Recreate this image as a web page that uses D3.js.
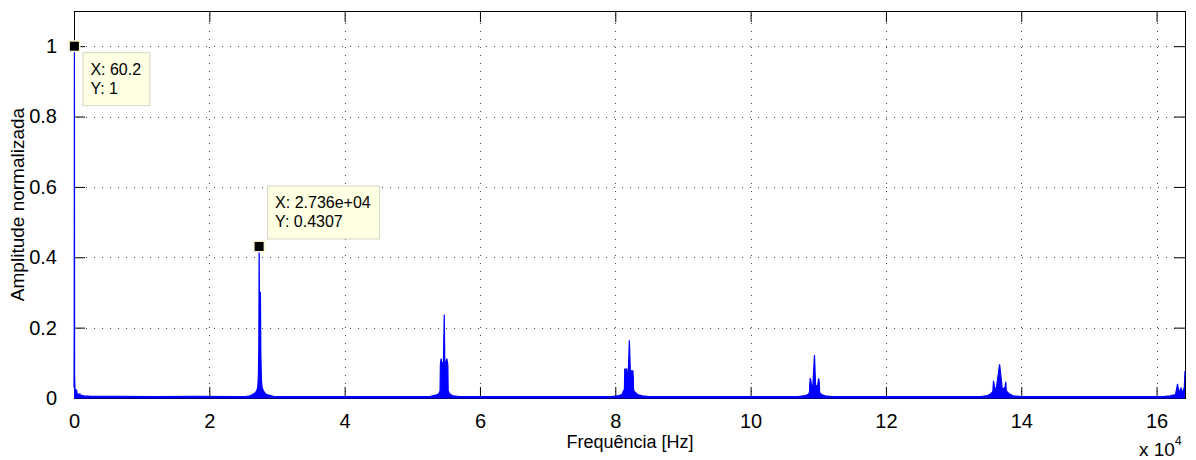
<!DOCTYPE html>
<html lang="pt">
<head>
<meta charset="UTF-8">
<title>espectro</title>
<style>
  body { margin: 0; background: #fff; }
  text { font-family: "Liberation Sans", Arial, Helvetica, sans-serif; }
</style>
</head>
<body>
<svg width="1196" height="460"></svg>
<script src="https://d3js.org/d3.v7.min.js"></script>
<script>
// data (frequency in Hz, normalised amplitude)
var dcFreq  = [0, 30, 60.2, 90, 150, 400, 450, 900, 950, 1500, 2500];
var dcAmp   = [0.03, 0.2, 1, 0.06, 0.025, 0.022, 0.012, 0.011, 0.008, 0.006, 0.005];

var h1Freq = [6000, 12000, 18000, 24000, 25500, 26000, 26400, 26800, 27000, 27150, 27250, 27320, 27360, 27400, 27550, 27620, 27700, 27800, 28000, 28300, 28800, 29500, 33000, 40000, 47000];
var h1Amp  = [0.005, 0.004, 0.005, 0.004, 0.005, 0.006, 0.01, 0.015, 0.02, 0.03, 0.06, 0.15, 0.4307, 0.30, 0.30, 0.12, 0.05, 0.03, 0.02, 0.012, 0.008, 0.005, 0.004, 0.004, 0.004];

var h2Freq = [52500, 53500, 53900, 54100, 54150, 54250, 54350, 54600, 54720, 54800, 55000, 55100, 55250, 55300, 55500, 56000, 57000, 62000, 68000, 74000];
var h2Amp  = [0.004, 0.008, 0.012, 0.02, 0.095, 0.112, 0.1, 0.1, 0.237, 0.1, 0.105, 0.112, 0.095, 0.02, 0.012, 0.006, 0.004, 0.004, 0.004, 0.004];

var h3Freq = [79500, 80500, 81000, 81200, 81350, 81400, 81700, 81800, 81900, 82080, 82250, 82300, 82600, 82650, 82700, 82750, 83000, 83300, 84000, 85000, 90000, 96000, 102000];
var h3Amp  = [0.004, 0.007, 0.01, 0.02, 0.025, 0.082, 0.082, 0.06, 0.06, 0.164, 0.06, 0.077, 0.077, 0.06, 0.025, 0.02, 0.015, 0.01, 0.006, 0.004, 0.004, 0.004, 0.004];

var h4Freq = [107000, 108000, 108500, 108700, 108750, 108800, 108900, 109000, 109200, 109440, 109600, 109900, 110050, 110150, 110200, 110500, 111000, 112000, 118000, 125000, 131000];
var h4Amp  = [0.004, 0.007, 0.01, 0.015, 0.04, 0.056, 0.05, 0.035, 0.035, 0.122, 0.035, 0.035, 0.056, 0.045, 0.015, 0.01, 0.006, 0.004, 0.004, 0.004, 0.004];

var h5Freq = [134000, 135000, 135500, 135800, 135900, 136050, 136300, 136800, 137200, 137600, 137700, 137800, 138200, 138800, 140000, 146000, 152000, 158000];
var h5Amp  = [0.004, 0.007, 0.012, 0.018, 0.049, 0.03, 0.025, 0.096, 0.025, 0.03, 0.046, 0.02, 0.012, 0.006, 0.004, 0.004, 0.004, 0.004];

var edgeFreq = [161000, 162000, 162800, 163100, 163300, 163600, 163800, 164100, 164200];
var edgeAmp  = [0.004, 0.006, 0.01, 0.04, 0.015, 0.028, 0.015, 0.03, 0.077];

var xTicks = [0, 20000, 40000, 60000, 80000, 100000, 120000, 140000, 160000];
var yTicks = [0, 0.2, 0.4, 0.6, 0.8, 1];
var tipX = [60.2, 27360];
var tipY = [1, 0.4307];
var tipLabelX = ["60.2", "2.736e+04"];
var tipLabelY = ["1", "0.4307"];

var freq = [].concat(dcFreq, h1Freq, h2Freq, h3Freq, h4Freq, h5Freq, edgeFreq);
var amp = [].concat(dcAmp, h1Amp, h2Amp, h3Amp, h4Amp, h5Amp, edgeAmp);
var spectrum = freq.map(function(f, i) { return { f: f, a: amp[i] }; });

// layout
var mLeft = 74, mRight = 1185, mTop = 11, mBottom = 398;
var svg = d3.select("svg");

var x = d3.scaleLinear().domain([0, 164200]).range([mLeft, mRight]);
var y = d3.scaleLinear().domain([0, 1.1]).range([mBottom, mTop]);

// grid
var grid = svg.append("g").attr("stroke", "#444").attr("stroke-dasharray", "1,7").attr("stroke-width", 1);
grid.selectAll(".gx").data(xTicks.slice(1)).enter().append("line")
  .attr("x1", function(d) { return Math.round(x(d)) + 0.5; })
  .attr("x2", function(d) { return Math.round(x(d)) + 0.5; })
  .attr("y1", mTop + 4).attr("y2", mBottom);
grid.selectAll(".gy").data(yTicks.slice(1)).enter().append("line")
  .attr("y1", function(d) { return Math.round(y(d)) + 0.5; })
  .attr("y2", function(d) { return Math.round(y(d)) + 0.5; })
  .attr("x1", mLeft + 4).attr("x2", mRight);

// axes (ticks inside, MATLAB style)
var tickLen = 11;
var xb = svg.append("g").attr("transform", "translate(0," + mBottom + ")")
  .call(d3.axisBottom(x).tickValues(xTicks).tickSizeInner(-tickLen).tickSizeOuter(0).tickPadding(tickLen + 5)
    .tickFormat(function(d) { return d / 1e4; }));
var xt = svg.append("g").attr("transform", "translate(0," + mTop + ")")
  .call(d3.axisTop(x).tickValues(xTicks).tickSizeInner(-tickLen).tickSizeOuter(0).tickFormat(""));
var yl = svg.append("g").attr("transform", "translate(" + mLeft + ",0)")
  .call(d3.axisLeft(y).tickValues(yTicks).tickSizeInner(-tickLen).tickSizeOuter(0).tickPadding(tickLen + 6)
    .tickFormat(function(d) { return d3.format("~g")(d); }));
var yr = svg.append("g").attr("transform", "translate(" + mRight + ",0)")
  .call(d3.axisRight(y).tickValues(yTicks).tickSizeInner(-tickLen).tickSizeOuter(0).tickFormat(""));

[xb, xt, yl, yr].forEach(function(g) {
  g.select(".domain").remove();
  g.selectAll("text").attr("font-size", 20).attr("fill", "#000").attr("font-family", null);
  g.selectAll("line").attr("stroke", "#000");
});

svg.append("rect")
  .attr("x", mLeft + 0.5).attr("y", mTop + 0.5)
  .attr("width", mRight - mLeft).attr("height", mBottom - mTop)
  .attr("fill", "none").attr("stroke", "#000").attr("stroke-width", 1);

// spectrum
var area = d3.area().x(function(d) { return x(d.f); }).y0(y(0)).y1(function(d) { return y(d.a); });
var line = d3.line().x(function(d) { return x(d.f); }).y(function(d) { return y(d.a); });

svg.append("path").datum(spectrum).attr("d", area).attr("fill", "#0000ff");
svg.append("path").datum(spectrum).attr("d", line)
  .attr("fill", "none").attr("stroke", "#0000ff").attr("stroke-width", 1.2);
svg.append("line")
  .attr("x1", mLeft).attr("x2", mRight).attr("y1", mBottom - 0.5).attr("y2", mBottom - 0.5)
  .attr("stroke", "#0000ff").attr("stroke-width", 2);

// data tips
var tips = tipX.map(function(v, i) { return { x: v, y: tipY[i], lx: tipLabelX[i], ly: tipLabelY[i] }; });
var tipOffset = [[8, 6], [8, -61]];
tips.forEach(function(t, i) {
  var px = x(t.x), py = y(t.y);
  var g = svg.append("g");
  var bx = px + tipOffset[i][0], by = py + tipOffset[i][1];
  var lab1 = g.append("text").attr("x", bx + 8).attr("y", by + 23).attr("font-size", 16).text("X: " + t.lx);
  var w = lab1.node().getComputedTextLength();
  g.append("text").attr("x", bx + 8).attr("y", by + 42).attr("font-size", 16).text("Y: " + t.ly);
  g.insert("rect", "text").attr("x", bx + 0.5).attr("y", by + 0.5)
    .attr("width", Math.round(w + 16)).attr("height", 53)
    .attr("fill", "#ffffe3").attr("stroke", "#d6d6c4");
  svg.append("rect").attr("x", px - 6).attr("y", py - 6).attr("width", 12).attr("height", 12)
    .attr("fill", "#fbf6cf");
  svg.append("rect").attr("x", px - 4.5).attr("y", py - 4.5).attr("width", 9).attr("height", 9)
    .attr("fill", "#000");
});

// labels
svg.append("text").attr("x", 630).attr("y", 448).attr("text-anchor", "middle")
  .attr("font-size", 18).text("Frequência [Hz]");
svg.append("text").attr("transform", "translate(24," + (mTop + mBottom) / 2 + ") rotate(-90)")
  .attr("text-anchor", "middle").attr("font-size", 19).text("Amplitude normalizada");
var ex = svg.append("text").attr("x", 1139).attr("y", 456).attr("font-size", 19);
ex.append("tspan").text("x 10");
ex.append("tspan").attr("dy", -11).attr("font-size", 12).text("4");
</script>
</body>
</html>
